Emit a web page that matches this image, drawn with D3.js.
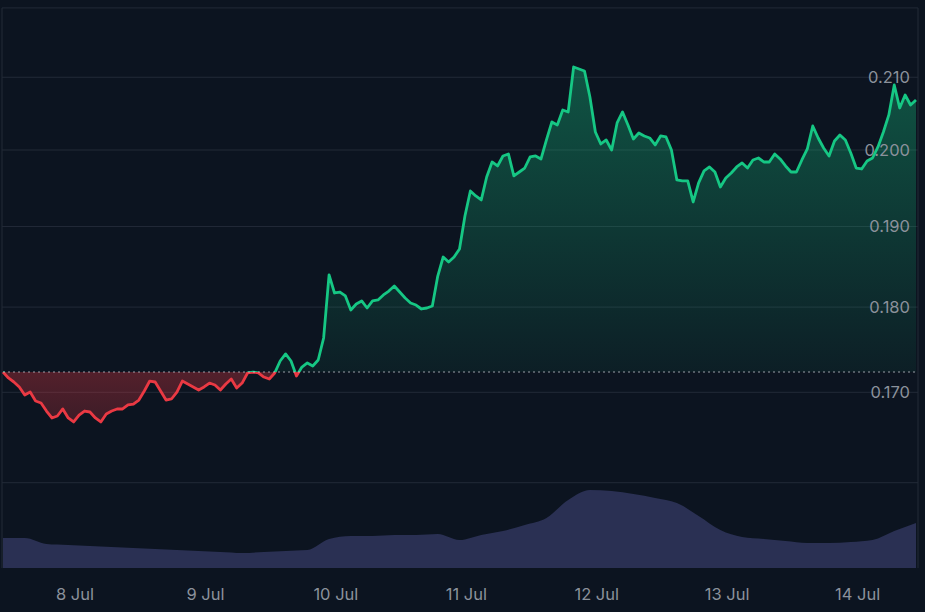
<!DOCTYPE html>
<html>
<head>
<meta charset="utf-8">
<script src="https://cdn.jsdelivr.net/npm/d3@7"></script>
<style>
  html, body { margin: 0; padding: 0; background: #0c1420; }
  svg { display: block; }
</style>
</head>
<body>
<svg id="chart" width="925" height="612"></svg>
<script>
// ---------- data ----------
const priceStart = "2024-07-07T10:45:00Z";
const priceStepHours = 1;
const prices = [
  0.17233,0.17164,0.17118,0.17061,0.16969,0.17003,0.16901,0.16879,0.16788,0.16710,0.16732,0.16811,
  0.16710,0.16665,0.16743,0.16788,0.16777,0.16710,0.16665,0.16754,0.16788,0.16811,0.16811,0.16856,
  0.16867,0.16912,0.17015,0.17129,0.17118,0.17015,0.16912,0.16924,0.17003,0.17129,0.17095,0.17061,
  0.17026,0.17061,0.17106,0.17084,0.17026,0.17095,0.17152,0.17049,0.17106,0.17222,0.17233,0.17222,
  0.17175,0.17152,0.17222,0.17361,0.17443,0.17361,0.17187,0.17291,0.17338,0.17303,0.17372,0.17631,
  0.18392,0.18171,0.18183,0.18135,0.17965,0.18037,0.18074,0.17989,0.18074,0.18086,0.18147,0.18195,
  0.18257,0.18183,0.18110,0.18050,0.18025,0.17977,0.17989,0.18013,0.18379,0.18615,0.18553,0.18615,
  0.18715,0.19134,0.19458,0.19393,0.19341,0.19641,0.19840,0.19787,0.19920,0.19947,0.19655,0.19707,
  0.19760,0.19907,0.19920,0.19880,0.20135,0.20380,0.20339,0.20544,0.20517,0.21145,0.21117,0.21089,
  0.20724,0.20243,0.20081,0.20135,0.20000,0.20366,0.20517,0.20339,0.20148,0.20230,0.20189,0.20162,
  0.20068,0.20189,0.20176,0.20000,0.19602,0.19589,0.19589,0.19315,0.19563,0.19721,0.19774,0.19707,
  0.19510,0.19628,0.19694,0.19774,0.19827,0.19760,0.19867,0.19893,0.19840,0.19840,0.19947,0.19880,
  0.19787,0.19707,0.19707,0.19867,0.20014,0.20325,0.20162,0.20027,0.19920,0.20121,0.20203,0.20135,
  0.19960,0.19760,0.19747,0.19853,0.19893,0.20041,0.20243,0.20476,0.20892,0.20572,0.20752,0.20613,
  0.20682
];
const volumeStepHours = 4;
const volumes = [
  33.3,33.3,26.7,25.6,24.4,23.3,22.2,21.1,20.0,18.9,17.8,16.7,17.8,18.9,20.0,32.2,
  35.6,35.6,36.7,36.7,37.8,31.1,36.7,41.1,47.8,55.6,75.6,86.7,85.6,82.2,77.8,72.2,
  57.8,42.2,34.4,32.2,30.0,27.8,27.8,28.9,31.1,41.1,50.0
];
const yTickValues = [0.17, 0.18, 0.19, 0.20, 0.21];
const gridValues = [0.16, 0.17, 0.18, 0.19, 0.20, 0.21, 0.22];
const xTickDates = ["2024-07-08","2024-07-09","2024-07-10","2024-07-11","2024-07-12","2024-07-13","2024-07-14"];

// ---------- setup ----------
const svg = d3.select("#chart");
const W = 925, H = 612;
const left = 3, right = 916, plotRight = 918, volBottom = 568;
const HOUR = 3600 * 1000;
const t0 = new Date(priceStart);
const priceData = prices.map((p, i) => ({ t: new Date(+t0 + i * priceStepHours * HOUR), v: p }));
const volData = volumes.map((v, i) => ({ t: new Date(+t0 + i * volumeStepHours * HOUR), v }));
const tEnd = priceData[priceData.length - 1].t;

const x = d3.scaleUtc().domain([t0, tEnd]).range([left, right]);
const y = d3.scaleLog().domain([0.16, 0.22]).range([482.7, 7.9]);
const yVol = d3.scaleLinear().domain([0, 100]).range([volBottom, 478]);

const baseValue = prices[0];
const yBase = y(baseValue);

svg.append("rect").attr("width", W).attr("height", H).attr("fill", "#0c1420");

const defs = svg.append("defs");
const gGreen = defs.append("linearGradient").attr("id", "gGreen")
  .attr("gradientUnits", "userSpaceOnUse").attr("x1", 0).attr("x2", 0)
  .attr("y1", y(d3.max(prices))).attr("y2", yBase);
gGreen.append("stop").attr("offset", "0%").attr("stop-color", "#16c784").attr("stop-opacity", 0.36);
gGreen.append("stop").attr("offset", "100%").attr("stop-color", "#16c784").attr("stop-opacity", 0.06);
const gRed = defs.append("linearGradient").attr("id", "gRed")
  .attr("gradientUnits", "userSpaceOnUse").attr("x1", 0).attr("x2", 0)
  .attr("y1", yBase).attr("y2", y(d3.min(prices)));
gRed.append("stop").attr("offset", "0%").attr("stop-color", "#ea3943").attr("stop-opacity", 0.32);
gRed.append("stop").attr("offset", "100%").attr("stop-color", "#ea3943").attr("stop-opacity", 0.22);

defs.append("clipPath").attr("id", "clipAbove").append("rect")
  .attr("x", 0).attr("y", 0).attr("width", W).attr("height", yBase);
defs.append("clipPath").attr("id", "clipBelow").append("rect")
  .attr("x", 0).attr("y", yBase).attr("width", W).attr("height", H - yBase);

// ---------- grid ----------
const grid = svg.append("g");
grid.selectAll("line.h").data(gridValues).join("line")
  .attr("x1", 2).attr("x2", plotRight)
  .attr("y1", d => y(d)).attr("y2", d => y(d))
  .attr("stroke", "#222a37").attr("stroke-width", 1);
grid.selectAll("line.v").data([2, plotRight]).join("line")
  .attr("x1", d => d).attr("x2", d => d)
  .attr("y1", y(0.22)).attr("y2", volBottom)
  .attr("stroke", "#222a37").attr("stroke-width", 1);

// ---------- volume ----------
svg.append("path").datum(volData)
  .attr("fill", "#2a3053")
  .attr("d", d3.area().x(d => x(d.t)).y0(volBottom).y1(d => yVol(d.v)).curve(d3.curveMonotoneX));

// ---------- fills ----------
const area = d3.area().x(d => x(d.t)).y0(yBase).y1(d => y(d.v));
svg.append("path").datum(priceData).attr("clip-path", "url(#clipAbove)")
  .attr("fill", "url(#gGreen)").attr("d", area);
svg.append("path").datum(priceData).attr("clip-path", "url(#clipBelow)")
  .attr("fill", "url(#gRed)").attr("d", area);

// ---------- y labels ----------
svg.append("g").selectAll("text").data(yTickValues).join("text")
  .attr("x", 910).attr("y", d => y(d)).attr("dy", "0.36em")
  .attr("text-anchor", "end")
  .attr("font-family", "Inter, 'Noto Sans', sans-serif").attr("font-size", 16.5)
  .attr("fill", "#8b919b")
  .text(d => d3.format(".3f")(d));

// ---------- lines ----------
const line = d3.line().x(d => x(d.t)).y(d => y(d.v));
svg.append("path").datum(priceData).attr("clip-path", "url(#clipAbove)")
  .attr("fill", "none").attr("stroke", "#16c784").attr("stroke-width", 2.8)
  .attr("stroke-linejoin", "round").attr("d", line);
svg.append("path").datum(priceData).attr("clip-path", "url(#clipBelow)")
  .attr("fill", "none").attr("stroke", "#ea3943").attr("stroke-width", 2.8)
  .attr("stroke-linejoin", "round").attr("d", line);

// baseline
svg.append("line").attr("x1", left).attr("x2", plotRight - 2)
  .attr("y1", yBase).attr("y2", yBase)
  .attr("stroke", "#c8ccd4").attr("stroke-opacity", 0.75)
  .attr("stroke-width", 1).attr("stroke-dasharray", "2,3");

// ---------- x axis ----------
const xTicks = xTickDates.map(s => new Date(s + "T00:00:00Z"));
svg.append("g").selectAll("text").data(xTicks).join("text")
  .attr("x", d => x(d)).attr("y", 594).attr("dy", "0.36em")
  .attr("text-anchor", "middle")
  .attr("font-family", "Inter, 'Noto Sans', sans-serif").attr("font-size", 16.5)
  .attr("fill", "#8b919b")
  .text(d => d3.utcFormat("%-d %b")(d));
</script>
</body>
</html>
